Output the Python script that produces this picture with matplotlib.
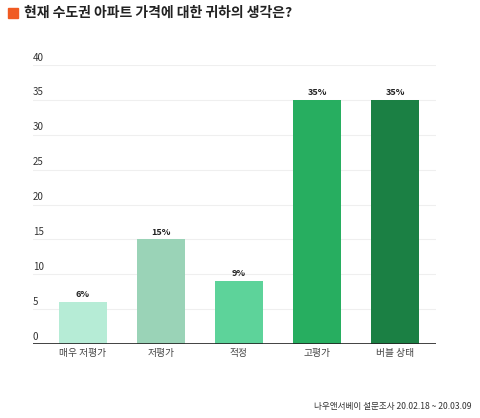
import matplotlib.pyplot as plt

plt.rcParams['font.family'] = ['Noto Sans CJK KR', 'DejaVu Sans']

categories = ["매우 저평가", "저평가", "적정", "고평가", "버블 상태"]
values = [6, 15, 9, 35, 35]
colors = ["#b6ecd6", "#9ad3b7", "#5dd39a", "#27ae60", "#1b8044"]
yticks = [0, 5, 10, 15, 20, 25, 30, 35, 40]

fig = plt.figure(figsize=(4.8, 4.18), dpi=100)
ax = fig.add_axes([33 / 480, 1 - 344 / 418, 403 / 480, (344 - 65) / 418])

x = list(range(len(categories)))
ax.bar(x, values, width=0.615, color=colors, zorder=3)
for xi, v in zip(x, values):
    ax.text(xi, v + 0.4, f"{v}%", ha="center", va="bottom", fontsize=6.5,
            fontweight="bold", color="#222222")

ax.set_xlim(-0.641, 4.526)
ax.set_ylim(0, 40)
for t in yticks:
    ax.axhline(t, color="#efefef", lw=0.8, zorder=1)
    ax.text(-0.641, t + 0.35, str(t), fontsize=7, color="#333333",
            ha="left", va="bottom")
ax.axhline(0, color="#222222", lw=1.2, zorder=4)

ax.set_yticks([])
ax.set_xticks(x)
ax.set_xticklabels(categories, fontsize=7, color="#444444")
ax.tick_params(axis="x", length=0, pad=3)
for s in ax.spines.values():
    s.set_visible(False)

fig.patches.append(plt.Rectangle((8 / 480, 1 - 18 / 418), 10 / 480, 10 / 418,
                                 transform=fig.transFigure, color="#f05a22"))
fig.text(24 / 480, 1 - 13 / 418, "현재 수도권 아파트 가격에 대한 귀하의 생각은?",
         fontsize=10, fontweight="bold", color="#222222", va="center")
fig.text(472 / 480, 1 - 406 / 418, "나우앤서베이 설문조사 20.02.18 ~ 20.03.09",
         fontsize=6.2, color="#333333", ha="right", va="center")

fig.savefig("out.png", dpi=100)
